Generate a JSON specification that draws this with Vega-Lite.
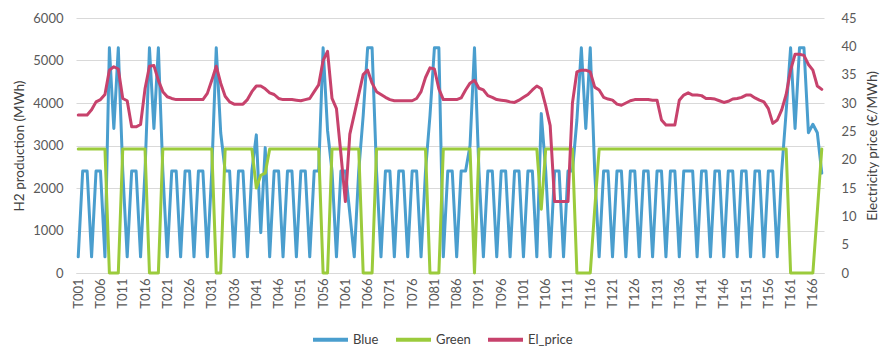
{
"$schema":"https://vega.github.io/schema/vega-lite/v6.json",
"width":748,"height":255,
"autosize":{"type":"none"},
"padding":{"left":76,"top":18,"right":59,"bottom":74},
"background":"white",
"config":{"font":"Lato","view":{"stroke":null}},
"data":{"values":[
{"t":"T001","Blue":380,"Green":2920,"El_price":27.9},
{"t":"T002","Blue":2400,"Green":2920,"El_price":27.9},
{"t":"T003","Blue":2400,"Green":2920,"El_price":27.9},
{"t":"T004","Blue":380,"Green":2920,"El_price":28.8},
{"t":"T005","Blue":2400,"Green":2920,"El_price":30.2},
{"t":"T006","Blue":2400,"Green":2920,"El_price":30.6},
{"t":"T007","Blue":380,"Green":2920,"El_price":31.5},
{"t":"T008","Blue":5300,"Green":0,"El_price":35.8},
{"t":"T009","Blue":3400,"Green":0,"El_price":36.4},
{"t":"T010","Blue":5300,"Green":0,"El_price":36.0},
{"t":"T011","Blue":2400,"Green":2920,"El_price":30.8},
{"t":"T012","Blue":380,"Green":2920,"El_price":30.4},
{"t":"T013","Blue":2400,"Green":2920,"El_price":25.8},
{"t":"T014","Blue":2400,"Green":2920,"El_price":25.8},
{"t":"T015","Blue":380,"Green":2920,"El_price":26.2},
{"t":"T016","Blue":2400,"Green":2920,"El_price":32.5},
{"t":"T017","Blue":5300,"Green":0,"El_price":36.5},
{"t":"T018","Blue":3400,"Green":0,"El_price":36.6},
{"t":"T019","Blue":5300,"Green":0,"El_price":34.0},
{"t":"T020","Blue":2400,"Green":2920,"El_price":32.0},
{"t":"T021","Blue":380,"Green":2920,"El_price":31.1},
{"t":"T022","Blue":2400,"Green":2920,"El_price":30.8},
{"t":"T023","Blue":2400,"Green":2920,"El_price":30.6},
{"t":"T024","Blue":380,"Green":2920,"El_price":30.6},
{"t":"T025","Blue":2400,"Green":2920,"El_price":30.6},
{"t":"T026","Blue":2400,"Green":2920,"El_price":30.6},
{"t":"T027","Blue":380,"Green":2920,"El_price":30.6},
{"t":"T028","Blue":2400,"Green":2920,"El_price":30.6},
{"t":"T029","Blue":2400,"Green":2920,"El_price":30.6},
{"t":"T030","Blue":380,"Green":2920,"El_price":31.7},
{"t":"T031","Blue":2400,"Green":2920,"El_price":34.0},
{"t":"T032","Blue":5300,"Green":0,"El_price":36.5},
{"t":"T033","Blue":3300,"Green":0,"El_price":33.5},
{"t":"T034","Blue":2400,"Green":2920,"El_price":31.2},
{"t":"T035","Blue":2400,"Green":2920,"El_price":30.2},
{"t":"T036","Blue":380,"Green":2920,"El_price":29.8},
{"t":"T037","Blue":2400,"Green":2920,"El_price":29.8},
{"t":"T038","Blue":2400,"Green":2920,"El_price":29.8},
{"t":"T039","Blue":380,"Green":2920,"El_price":30.6},
{"t":"T040","Blue":2400,"Green":2920,"El_price":32.0},
{"t":"T041","Blue":3250,"Green":2000,"El_price":33.0},
{"t":"T042","Blue":950,"Green":2300,"El_price":33.0},
{"t":"T043","Blue":2950,"Green":2350,"El_price":32.5},
{"t":"T044","Blue":380,"Green":2920,"El_price":31.8},
{"t":"T045","Blue":2400,"Green":2920,"El_price":31.5},
{"t":"T046","Blue":2400,"Green":2920,"El_price":30.8},
{"t":"T047","Blue":380,"Green":2920,"El_price":30.6},
{"t":"T048","Blue":2400,"Green":2920,"El_price":30.6},
{"t":"T049","Blue":2400,"Green":2920,"El_price":30.6},
{"t":"T050","Blue":380,"Green":2920,"El_price":30.5},
{"t":"T051","Blue":2400,"Green":2920,"El_price":30.4},
{"t":"T052","Blue":2400,"Green":2920,"El_price":30.6},
{"t":"T053","Blue":380,"Green":2920,"El_price":30.8},
{"t":"T054","Blue":2400,"Green":2920,"El_price":32.0},
{"t":"T055","Blue":2400,"Green":2920,"El_price":33.2},
{"t":"T056","Blue":5300,"Green":0,"El_price":37.5},
{"t":"T057","Blue":3350,"Green":0,"El_price":39.1},
{"t":"T058","Blue":2400,"Green":2920,"El_price":30.8},
{"t":"T059","Blue":380,"Green":2920,"El_price":29.0},
{"t":"T060","Blue":2400,"Green":2920,"El_price":21.0},
{"t":"T061","Blue":2400,"Green":2920,"El_price":12.6},
{"t":"T062","Blue":1400,"Green":2920,"El_price":24.5},
{"t":"T063","Blue":380,"Green":2920,"El_price":28.0},
{"t":"T064","Blue":2400,"Green":2920,"El_price":31.5},
{"t":"T065","Blue":3700,"Green":0,"El_price":35.0},
{"t":"T066","Blue":5300,"Green":0,"El_price":35.8},
{"t":"T067","Blue":5300,"Green":0,"El_price":33.5},
{"t":"T068","Blue":2400,"Green":2920,"El_price":32.0},
{"t":"T069","Blue":380,"Green":2920,"El_price":31.5},
{"t":"T070","Blue":2400,"Green":2920,"El_price":31.0},
{"t":"T071","Blue":2400,"Green":2920,"El_price":30.6},
{"t":"T072","Blue":380,"Green":2920,"El_price":30.4},
{"t":"T073","Blue":2400,"Green":2920,"El_price":30.4},
{"t":"T074","Blue":2400,"Green":2920,"El_price":30.4},
{"t":"T075","Blue":380,"Green":2920,"El_price":30.4},
{"t":"T076","Blue":2400,"Green":2920,"El_price":30.4},
{"t":"T077","Blue":2400,"Green":2920,"El_price":30.8},
{"t":"T078","Blue":380,"Green":2920,"El_price":32.0},
{"t":"T079","Blue":2400,"Green":2920,"El_price":34.5},
{"t":"T080","Blue":3700,"Green":0,"El_price":36.2},
{"t":"T081","Blue":5300,"Green":0,"El_price":36.0},
{"t":"T082","Blue":5300,"Green":0,"El_price":32.5},
{"t":"T083","Blue":380,"Green":2920,"El_price":30.6},
{"t":"T084","Blue":2400,"Green":2920,"El_price":30.6},
{"t":"T085","Blue":2400,"Green":2920,"El_price":30.6},
{"t":"T086","Blue":380,"Green":2920,"El_price":30.6},
{"t":"T087","Blue":2400,"Green":2920,"El_price":30.9},
{"t":"T088","Blue":2400,"Green":2920,"El_price":32.3},
{"t":"T089","Blue":3000,"Green":2920,"El_price":33.5},
{"t":"T090","Blue":5300,"Green":0,"El_price":34.0},
{"t":"T091","Blue":2400,"Green":2920,"El_price":32.6},
{"t":"T092","Blue":380,"Green":2920,"El_price":32.3},
{"t":"T093","Blue":2400,"Green":2920,"El_price":31.3},
{"t":"T094","Blue":2400,"Green":2920,"El_price":31.0},
{"t":"T095","Blue":380,"Green":2920,"El_price":30.6},
{"t":"T096","Blue":2400,"Green":2920,"El_price":30.5},
{"t":"T097","Blue":2400,"Green":2920,"El_price":30.4},
{"t":"T098","Blue":380,"Green":2920,"El_price":30.2},
{"t":"T099","Blue":2400,"Green":2920,"El_price":30.1},
{"t":"T100","Blue":2400,"Green":2920,"El_price":30.5},
{"t":"T101","Blue":380,"Green":2920,"El_price":31.0},
{"t":"T102","Blue":2400,"Green":2920,"El_price":31.5},
{"t":"T103","Blue":2400,"Green":2920,"El_price":32.3},
{"t":"T104","Blue":380,"Green":2920,"El_price":33.0},
{"t":"T105","Blue":3750,"Green":1500,"El_price":32.5},
{"t":"T106","Blue":2400,"Green":2920,"El_price":29.5},
{"t":"T107","Blue":380,"Green":2920,"El_price":26.0},
{"t":"T108","Blue":2400,"Green":2920,"El_price":12.6},
{"t":"T109","Blue":2400,"Green":2920,"El_price":12.6},
{"t":"T110","Blue":380,"Green":2920,"El_price":12.6},
{"t":"T111","Blue":2400,"Green":2920,"El_price":12.6},
{"t":"T112","Blue":2400,"Green":2920,"El_price":30.0},
{"t":"T113","Blue":3600,"Green":0,"El_price":35.5},
{"t":"T114","Blue":5300,"Green":0,"El_price":35.8},
{"t":"T115","Blue":3400,"Green":0,"El_price":35.8},
{"t":"T116","Blue":5300,"Green":0,"El_price":35.5},
{"t":"T117","Blue":2400,"Green":1500,"El_price":32.8},
{"t":"T118","Blue":380,"Green":2920,"El_price":32.3},
{"t":"T119","Blue":2400,"Green":2920,"El_price":31.0},
{"t":"T120","Blue":2400,"Green":2920,"El_price":30.7},
{"t":"T121","Blue":380,"Green":2920,"El_price":30.5},
{"t":"T122","Blue":2400,"Green":2920,"El_price":29.8},
{"t":"T123","Blue":2400,"Green":2920,"El_price":29.6},
{"t":"T124","Blue":380,"Green":2920,"El_price":30.0},
{"t":"T125","Blue":2400,"Green":2920,"El_price":30.4},
{"t":"T126","Blue":2400,"Green":2920,"El_price":30.6},
{"t":"T127","Blue":380,"Green":2920,"El_price":30.6},
{"t":"T128","Blue":2400,"Green":2920,"El_price":30.6},
{"t":"T129","Blue":2400,"Green":2920,"El_price":30.6},
{"t":"T130","Blue":380,"Green":2920,"El_price":30.5},
{"t":"T131","Blue":2400,"Green":2920,"El_price":30.5},
{"t":"T132","Blue":2400,"Green":2920,"El_price":27.0},
{"t":"T133","Blue":380,"Green":2920,"El_price":26.1},
{"t":"T134","Blue":2400,"Green":2920,"El_price":26.1},
{"t":"T135","Blue":2400,"Green":2920,"El_price":26.1},
{"t":"T136","Blue":380,"Green":2920,"El_price":30.5},
{"t":"T137","Blue":2400,"Green":2920,"El_price":31.4},
{"t":"T138","Blue":2400,"Green":2920,"El_price":31.8},
{"t":"T139","Blue":2400,"Green":2920,"El_price":31.4},
{"t":"T140","Blue":380,"Green":2920,"El_price":31.4},
{"t":"T141","Blue":2400,"Green":2920,"El_price":31.3},
{"t":"T142","Blue":2400,"Green":2920,"El_price":30.8},
{"t":"T143","Blue":380,"Green":2920,"El_price":30.8},
{"t":"T144","Blue":2400,"Green":2920,"El_price":30.7},
{"t":"T145","Blue":2400,"Green":2920,"El_price":30.4},
{"t":"T146","Blue":380,"Green":2920,"El_price":30.1},
{"t":"T147","Blue":2400,"Green":2920,"El_price":30.3},
{"t":"T148","Blue":2400,"Green":2920,"El_price":30.7},
{"t":"T149","Blue":380,"Green":2920,"El_price":30.8},
{"t":"T150","Blue":2400,"Green":2920,"El_price":31.0},
{"t":"T151","Blue":2400,"Green":2920,"El_price":31.4},
{"t":"T152","Blue":380,"Green":2920,"El_price":31.4},
{"t":"T153","Blue":2400,"Green":2920,"El_price":30.9},
{"t":"T154","Blue":2400,"Green":2920,"El_price":30.5},
{"t":"T155","Blue":380,"Green":2920,"El_price":30.2},
{"t":"T156","Blue":2400,"Green":2920,"El_price":29.0},
{"t":"T157","Blue":2400,"Green":2920,"El_price":26.4},
{"t":"T158","Blue":380,"Green":2920,"El_price":27.0},
{"t":"T159","Blue":2400,"Green":2920,"El_price":28.8},
{"t":"T160","Blue":3800,"Green":2920,"El_price":31.5},
{"t":"T161","Blue":5300,"Green":0,"El_price":35.8},
{"t":"T162","Blue":3400,"Green":0,"El_price":38.6},
{"t":"T163","Blue":5300,"Green":0,"El_price":38.6},
{"t":"T164","Blue":5300,"Green":0,"El_price":38.4},
{"t":"T165","Blue":3300,"Green":0,"El_price":36.8},
{"t":"T166","Blue":3500,"Green":0,"El_price":35.8},
{"t":"T167","Blue":3300,"Green":1450,"El_price":33.0},
{"t":"T168","Blue":2350,"Green":2920,"El_price":32.4}
]},
"encoding":{
 "x":{"field":"t","type":"ordinal","scale":{"type":"point","padding":0.5},
  "axis":{"title":null,"labelAngle":-90,"labelFontSize":13,"labelColor":"#595959","ticks":false,"tickSize":0,"labelPadding":5,"domainColor":"#D9D9D9","domainWidth":1,"grid":false,
   "values":["T001","T006","T011","T016","T021","T026","T031","T036","T041","T046","T051","T056","T061","T066","T071","T076","T081","T086","T091","T096","T101","T106","T111","T116","T121","T126","T131","T136","T141","T146","T151","T156","T161","T166"]}}
},
"layer":[
 {"transform":[{"fold":["Blue","Green"],"as":["series","value"]}],
  "mark":{"type":"line","strokeWidth":3,"strokeJoin":"round","strokeCap":"round"},
  "encoding":{
   "y":{"field":"value","type":"quantitative","scale":{"domain":[0,6000]},
    "axis":{"title":"H2 production (MWh)","format":"d","values":[0,1000,2000,3000,4000,5000,6000],"grid":true,"gridColor":"#D9D9D9","gridWidth":1,"domain":false,"ticks":false,"tickSize":0,"labelPadding":13,"labelFontSize":13,"labelColor":"#595959","titleFontSize":13.5,"titleFontWeight":"normal","titleColor":"#404040","titlePadding":6}},
   "color":{"field":"series","type":"nominal",
    "scale":{"domain":["Blue","Green","El_price"],"range":["#4A9ECE","#9BCB3C","#C7426C"]},
    "legend":{"orient":"none","legendX":235,"legendY":302,"direction":"horizontal","title":null,"symbolType":"stroke","symbolSize":1225,"symbolStrokeWidth":4,"labelFontSize":13,"labelColor":"#404040","columnPadding":9,"labelOffset":3}}
  }},
 {"mark":{"type":"line","strokeWidth":3,"strokeJoin":"round","strokeCap":"round"},
  "encoding":{
   "y":{"field":"El_price","type":"quantitative","scale":{"domain":[0,45]},
    "axis":{"orient":"right","title":"Electricity price (€/MWh)","values":[0,5,10,15,20,25,30,35,40,45],"grid":false,"domain":false,"ticks":false,"tickSize":0,"labelPadding":17,"labelFontSize":13,"labelColor":"#595959","titleFontSize":13.5,"titleFontWeight":"normal","titleColor":"#404040","titlePadding":9,"titleAngle":270,"titleBaseline":"top"}},
   "color":{"datum":"El_price","type":"nominal"}
  }}
],
"resolve":{"scale":{"y":"independent"}}
}
